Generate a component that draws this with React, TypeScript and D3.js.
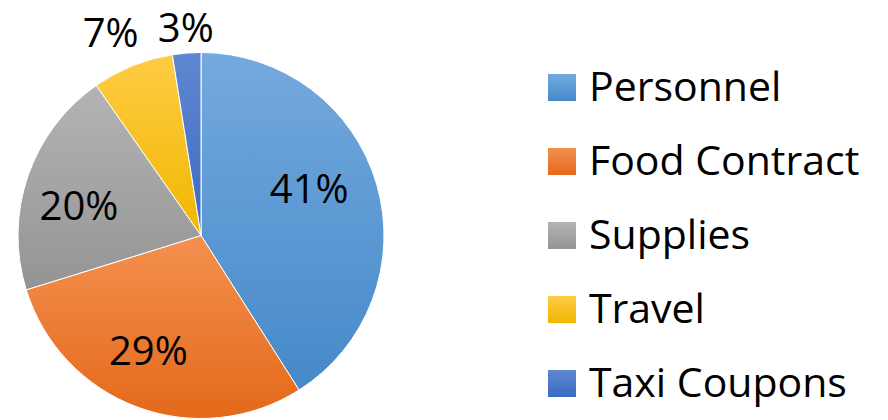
import React from "react";
import * as d3 from "d3";

const categories = ["Personnel", "Food Contract", "Supplies", "Travel", "Taxi Coupons"];
const values = [41.0, 29.2, 20.1, 7.2, 2.5];
const labels = ["41%", "29%", "20%", "7%", "3%"];
const colorsTop = ["#74a9de", "#f4904f", "#b4b4b4", "#ffcb45", "#5f88d1"];
const colorsBottom = ["#4689c9", "#e4691a", "#949494", "#f0b700", "#3a6ac2"];
// label placement: radial factor and angular nudge (degrees)
const labelRadius = [0.645, 0.69, 0.687, 1.215, 1.137];
const labelShift = [-7.3, 4.5, -5.1, -2, 0.3];

const W = 888;
const H = 420;
const cx = 201;
const cy = 235.5;
const R = 183;
const FONT = "'Open Sans', 'DejaVu Sans', sans-serif";
const FS = 40;
const LFS = 41;

export default function App() {
  const pie = d3.pie<number>().sort(null).value((d) => d).startAngle(0).endAngle(2 * Math.PI);
  const arcs = pie(values);
  const arcGen = d3.arc<d3.PieArcDatum<number>>().innerRadius(0).outerRadius(R);

  const legendY = d3.scalePoint<string>().domain(categories).range([101, 397]);

  return (
    <svg width={W} height={H} style={{ position: "absolute", left: 0, top: 0, background: "#fff" }}>
      <defs>
        {categories.map((c, i) => (
          <linearGradient key={c} id={`g${i}`} x1="0" y1="0" x2="0" y2="1">
            <stop offset="0%" stopColor={colorsTop[i]} />
            <stop offset="100%" stopColor={colorsBottom[i]} />
          </linearGradient>
        ))}
      </defs>
      <g transform={`translate(${cx},${cy})`}>
        {arcs.map((a, i) => (
          <path key={i} d={arcGen(a) || ""} fill={`url(#g${i})`} stroke="#fff" strokeWidth={1} />
        ))}
        {arcs.map((a, i) => {
          const mid = (a.startAngle + a.endAngle) / 2 + (labelShift[i] * Math.PI) / 180;
          const r = R * labelRadius[i];
          const x = Math.sin(mid) * r;
          const y = -Math.cos(mid) * r;
          return (
            <text
              key={`l${i}`}
              x={x}
              y={y + FS * 0.357}
              textAnchor="middle"
              fontFamily={FONT}
              fontSize={FS}
              fill="#000"
            >
              {labels[i]}
            </text>
          );
        })}
      </g>
      <g>
        {categories.map((c, i) => {
          const by = legendY(c) as number;
          return (
            <g key={c}>
              <rect x={548} y={by - 27} width={28} height={27} fill={`url(#g${i})`} />
              <text x={589} y={by} fontFamily={FONT} fontSize={LFS} fill="#000">
                {c}
              </text>
            </g>
          );
        })}
      </g>
    </svg>
  );
}
